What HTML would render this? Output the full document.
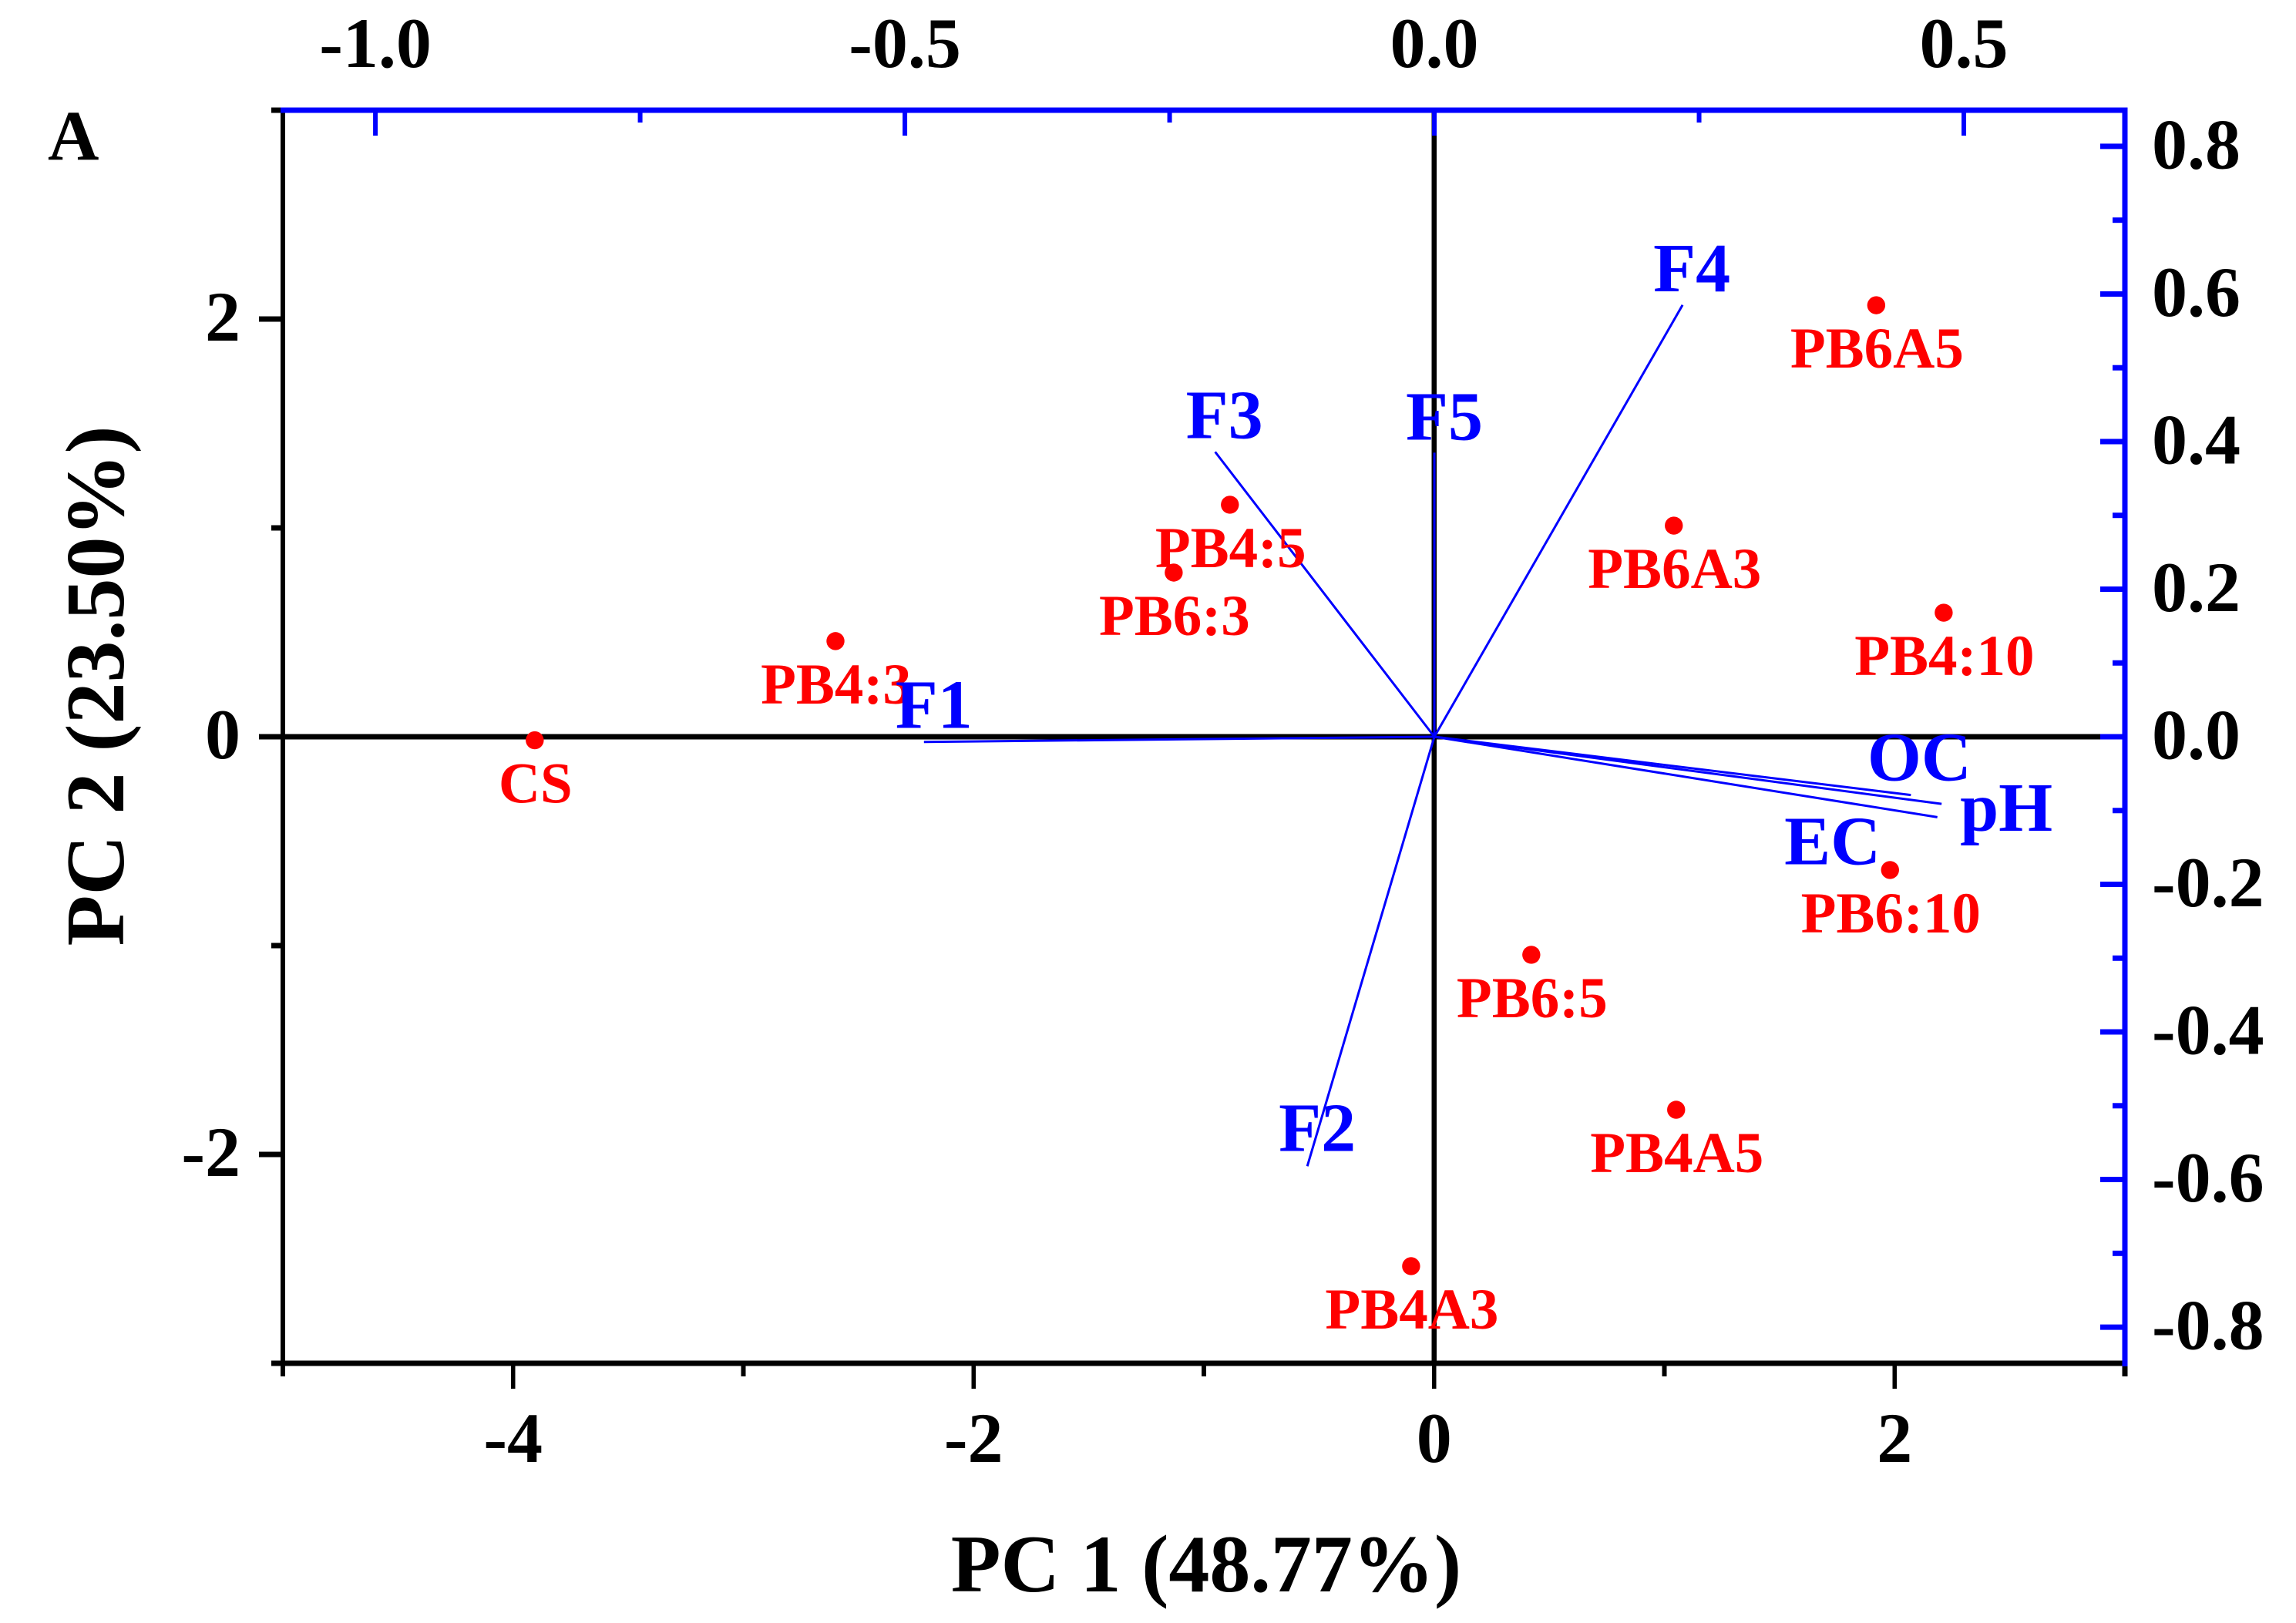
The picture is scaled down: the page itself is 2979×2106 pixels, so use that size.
<!DOCTYPE html>
<html lang="en">
<head>
<meta charset="utf-8">
<title>PCA biplot</title>
<style>
  html, body { margin: 0; padding: 0; background: #fff; }
  svg { display: block; }
  text { font-family: "Liberation Serif", "Times New Roman", serif; font-weight: bold; }
</style>
</head>
<body>
<svg id="chart" xmlns="http://www.w3.org/2000/svg" width="2979" height="2106" viewBox="0 0 2979 2106">
  <rect x="0" y="0" width="2979" height="2106" fill="#ffffff"/>
  <g id="axes-layer"></g>
  <g id="vectors-layer"></g>
  <g id="points-layer"></g>
  <g id="labels-layer"></g>
  <text x="62" y="207" font-size="92" fill="#000">A</text>
  <text x="1565" y="2065" font-size="106" fill="#000" text-anchor="middle">PC 1 (48.77%)</text>
  <text x="160" y="890" font-size="108" fill="#000" text-anchor="middle" transform="rotate(-90 160 890)">PC 2 (23.50%)</text>
</svg>
<script>
// ---- Score data (bottom / left axes) ----
const sampleNames = ["CS", "PB4:3", "PB6:3", "PB4:5", "PB6A3", "PB6A5", "PB4:10", "PB6:10", "PB6:5", "PB4A5", "PB4A3"];
const samplePC1 = [-3.906, -2.60, -1.131, -0.887, 1.041, 1.92, 2.213, 1.98, 0.422, 1.051, -0.10];
const samplePC2 = [-0.017, 0.458, 0.786, 1.111, 1.011, 2.066, 0.594, -0.638, -1.044, -1.786, -2.535];

// ---- Loading data (top / right axes) ----
const loadingNames = ["F1", "F2", "F3", "F4", "F5", "OC", "pH", "EC"];
const loadingPC1 = [-0.482, -0.120, -0.207, 0.2344, 0.0, 0.450, 0.479, 0.475];
const loadingPC2 = [-0.007, -0.582, 0.386, 0.585, 0.385, -0.079, -0.091, -0.109];

// ---- Tick values and labels ----
const bottomTicks = [-4, -2, 0, 2];
const bottomMinorTicks = [-5, -3, -1, 1, 3];
const bottomTickLabels = ["-4", "-2", "0", "2"];
const leftTicks = [-2, 0, 2];
const leftMinorTicks = [-3, -1, 1, 3];
const leftTickLabels = ["-2", "0", "2"];
const topTicks = [-1.0, -0.5, 0.0, 0.5];
const topMinorTicks = [-0.75, -0.25, 0.25];
const topTickLabels = ["-1.0", "-0.5", "0.0", "0.5"];
const rightTicks = [0.8, 0.6, 0.4, 0.2, 0.0, -0.2, -0.4, -0.6, -0.8];
const rightMinorTicks = [0.7, 0.5, 0.3, 0.1, -0.1, -0.3, -0.5, -0.7];
const rightTickLabels = ["0.8", "0.6", "0.4", "0.2", "0.0", "-0.2", "-0.4", "-0.6", "-0.8"];

// ---- Axis functions ----
const PLOT = { left: 367, right: 2757, top: 143, bottom: 1769 };
function linear(d0, d1, r0, r1) {
  return function (v) { return r0 + (v - d0) * (r1 - r0) / (d1 - d0); };
}
const xBottom = linear(-5, 3, PLOT.left, PLOT.right);
const yLeft = linear(-3, 3, PLOT.bottom, PLOT.top);
const xTop = linear(-1.0874, 0.6521, PLOT.left, PLOT.right);
const yRight = linear(-0.849, 0.849, PLOT.bottom, PLOT.top);

const NS = "http://www.w3.org/2000/svg";
const axesLayer = document.getElementById("axes-layer");
const vectorsLayer = document.getElementById("vectors-layer");
const pointsLayer = document.getElementById("points-layer");
const labelsLayer = document.getElementById("labels-layer");

function makeLine(parent, x1, y1, x2, y2, color, width) {
  const el = document.createElementNS(NS, "line");
  el.setAttribute("x1", x1);
  el.setAttribute("y1", y1);
  el.setAttribute("x2", x2);
  el.setAttribute("y2", y2);
  el.setAttribute("stroke", color);
  el.setAttribute("stroke-width", width);
  parent.appendChild(el);
  return el;
}
function makeText(parent, x, y, str, size, color, anchor) {
  const el = document.createElementNS(NS, "text");
  el.setAttribute("x", x);
  el.setAttribute("y", y);
  el.setAttribute("font-size", size);
  el.setAttribute("fill", color);
  el.setAttribute("text-anchor", anchor);
  el.textContent = str;
  parent.appendChild(el);
  return el;
}

const BLUE = "#0000ff";
const BLACK = "#000000";
const RED = "#ff0000";
let el;

// Black axes and zero lines
el = makeLine(axesLayer, PLOT.left, PLOT.top, PLOT.left, PLOT.bottom, BLACK, 6);


el = makeLine(axesLayer, 352, PLOT.bottom, PLOT.right + 3, PLOT.bottom, BLACK, 7);


el = makeLine(axesLayer, PLOT.left, yLeft(0), PLOT.right, yLeft(0), BLACK, 7);


el = makeLine(axesLayer, xBottom(0), PLOT.top, xBottom(0), PLOT.bottom, BLACK, 6.5);



// Bottom ticks
bottomTicks.forEach(function (v, i) {
  const t = makeLine(axesLayer, xBottom(v), PLOT.bottom, xBottom(v), 1802, BLACK, 5.5);
  
  
  const l = makeText(axesLayer, xBottom(v), 1897, bottomTickLabels[i], 92, BLACK, "middle");
  
  
});
bottomMinorTicks.forEach(function (v) {
  const t = makeLine(axesLayer, xBottom(v), PLOT.bottom, xBottom(v), 1786, BLACK, 6);
  
  
});

// Left ticks
leftTicks.forEach(function (v, i) {
  const t = makeLine(axesLayer, 336, yLeft(v), PLOT.left, yLeft(v), BLACK, 7);
  
  
  const l = makeText(axesLayer, 312, yLeft(v) + 28, leftTickLabels[i], 92, BLACK, "end");
  
  
});
leftMinorTicks.forEach(function (v) {
  const t = makeLine(axesLayer, 352, yLeft(v), PLOT.left, yLeft(v), BLACK, 7);
  
  
});

// Blue top axis
el = makeLine(axesLayer, 364, PLOT.top, PLOT.right + 3.5, PLOT.top, BLUE, 7);


topTicks.forEach(function (v, i) {
  const t = makeLine(axesLayer, xTop(v), PLOT.top, xTop(v), 176, BLUE, 6);
  
  
  const l = makeText(axesLayer, xTop(v), 87, topTickLabels[i], 92, BLACK, "middle");
  
  
});
topMinorTicks.forEach(function (v) {
  const t = makeLine(axesLayer, xTop(v), PLOT.top, xTop(v), 159, BLUE, 6);
  
  
});

// Blue right axis
el = makeLine(axesLayer, PLOT.right, PLOT.top - 3.5, PLOT.right, PLOT.bottom + 4, BLUE, 7);


el = makeLine(axesLayer, PLOT.right, PLOT.bottom + 4, PLOT.right, 1786, BLACK, 7);


rightTicks.forEach(function (v, i) {
  const t = makeLine(axesLayer, 2725, yRight(v), PLOT.right, yRight(v), BLUE, 7);
  
  
  const l = makeText(axesLayer, 2792, yRight(v) + 28.5, rightTickLabels[i], 92, BLACK, "start");
  
  
});
rightMinorTicks.forEach(function (v) {
  const t = makeLine(axesLayer, 2741, yRight(v), PLOT.right, yRight(v), BLUE, 7);
  
  
});

// Loading vectors and their labels
const labelNudgeX = { F1: 13, F2: 13, F3: 12, F4: 12, F5: 13, OC: 11, pH: 84, EC: -136 };
const labelNudgeY = { F1: -18, F2: -20, F3: -18, F4: -18, F5: -17, OC: -19, pH: 35, EC: 61 };
loadingNames.forEach(function (name, i) {
  const ex = xTop(loadingPC1[i]);
  const ey = yRight(loadingPC2[i]);
  const v = makeLine(vectorsLayer, xTop(0), yRight(0), ex, ey, BLUE, 3);
  
  
  const l = makeText(labelsLayer, ex + labelNudgeX[name], ey + labelNudgeY[name], name, 90, BLUE, "middle");
  
  
});

// Score points and labels
sampleNames.forEach(function (name, i) {
  const px = xBottom(samplePC1[i]);
  const py = yLeft(samplePC2[i]);
  const c = document.createElementNS(NS, "circle");
  c.setAttribute("cx", px);
  c.setAttribute("cy", py);
  c.setAttribute("r", 11.7);
  c.setAttribute("fill", RED);
  
  
  pointsLayer.appendChild(c);
  const l = makeText(pointsLayer, px + 1, py + 81, name, 75, RED, "middle");
  
  
});
</script>
</body>
</html>
